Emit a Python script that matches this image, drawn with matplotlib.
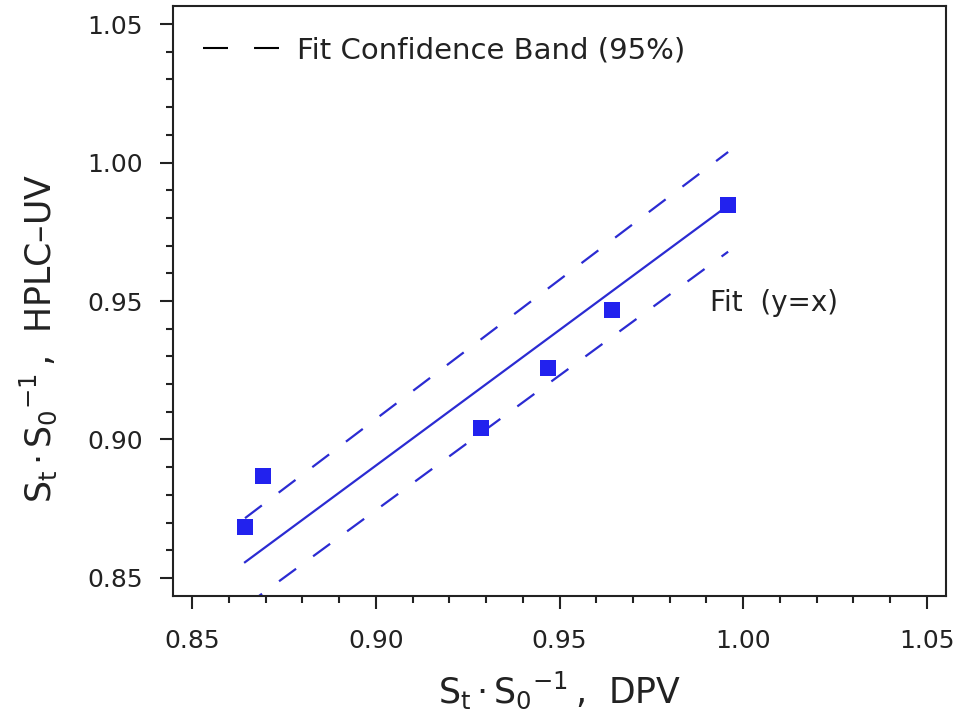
import matplotlib
matplotlib.use("Agg")
import matplotlib.pyplot as plt
from matplotlib.lines import Line2D
from matplotlib.ticker import MultipleLocator

plt.rcParams["font.family"] = ["DejaVu Sans"]
plt.rcParams["mathtext.default"] = "regular"

# measured points (DPV vs HPLC-UV)
dpv = [0.8644, 0.8692, 0.9286, 0.9469, 0.9642, 0.9959]
hplc = [0.8683, 0.8868, 0.9040, 0.9258, 0.9468, 0.9847]

# fit line and 95% confidence band ends
fit_x = [0.8644, 0.9959]
fit_y = [0.8557, 0.9845]
band_upper = [0.8716, 1.0038]
band_lower = [0.8398, 0.9678]

x_ticks = [0.85, 0.90, 0.95, 1.00, 1.05]
y_ticks = [0.85, 0.90, 0.95, 1.00, 1.05]

line_col = "#2b2bd2"
mark_col = "#2222ee"
ink = "#222222"

fig = plt.figure(figsize=(9.6, 7.27), dpi=100)
ax = fig.add_axes([173 / 960, 131 / 727, 773 / 960, 590 / 727])

ax.plot(fit_x, fit_y, color=line_col, lw=1.6)
ax.plot(fit_x, band_upper, color=line_col, lw=1.6, dashes=(9.5, 9.5))
ax.plot(fit_x, band_lower, color=line_col, lw=1.6, dashes=(9.5, 9.5))
ax.plot(dpv, hplc, "s", color=mark_col, markersize=12, markeredgewidth=0, zorder=3)

ax.set_xlim(0.8448, 1.0552)
ax.set_ylim(0.8435, 1.0565)
ax.set_xticks(x_ticks)
ax.set_yticks(y_ticks)
ax.set_xticklabels([f"{v:.2f}" for v in x_ticks])
ax.set_yticklabels([f"{v:.2f}" for v in y_ticks])
ax.xaxis.set_minor_locator(MultipleLocator(0.01))
ax.yaxis.set_minor_locator(MultipleLocator(0.01))
ax.tick_params(which="major", direction="out", length=9.5, width=1.5,
               color=ink, labelcolor=ink, labelsize=18, pad=12)
ax.tick_params(which="minor", direction="out", length=5, width=1.5, color=ink)
ax.tick_params(axis="x", which="major", pad=14)
for s in ax.spines.values():
    s.set_linewidth(1.5)
    s.set_color(ink)

# spaced-out quantity, as in the original export
qty = r"S$_{t}\,$·$\,$S$_{0}$$^{-1}\,$,  "
ax.set_xlabel(qty + "DPV", fontsize=25, color=ink)
ax.xaxis.set_label_coords(0.5, (596 - 690) / 590)
ax.xaxis.label.set_va("center")
ax.set_ylabel(qty + "HPLC–UV", fontsize=25, color=ink)
ax.yaxis.set_label_coords((38 - 173) / 773, (596 - 338) / 590)
ax.yaxis.label.set_va("center")

ax.text(0.9910, 0.9493, "Fit  (y=x)", fontsize=20, color=ink, ha="left", va="center")

handle = Line2D([], [], color="black", lw=1.5, dashes=(12, 12.5))
ax.legend([handle], ["Fit Confidence Band (95%)"], loc="center left",
          bbox_to_anchor=((203 - 173) / 773, (596 - 50) / 590),
          frameon=False, fontsize=21, handlelength=2.6, handletextpad=0.62,
          borderpad=0, borderaxespad=0, labelcolor=ink)

fig.savefig("out.png", dpi=100)
